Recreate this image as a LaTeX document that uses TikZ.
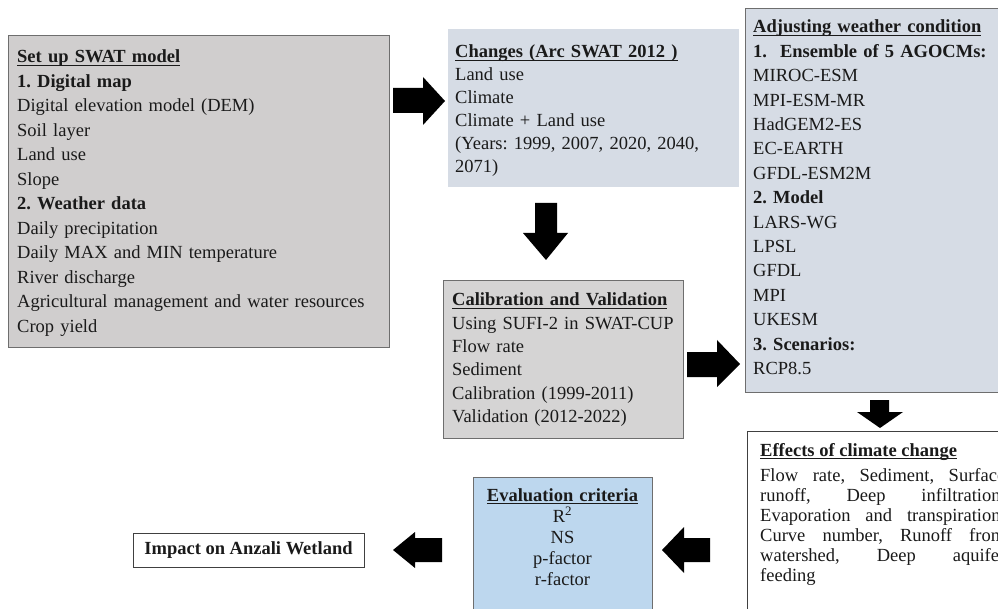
\documentclass[tikz,border=0pt]{standalone}
\usepackage{fontspec}
\setmainfont{Liberation Serif}
\definecolor{txt}{HTML}{1A1A1A}
\definecolor{grayA}{HTML}{D0CECE}
\definecolor{grayB}{HTML}{D5D4D4}
\definecolor{blueA}{HTML}{D6DCE5}
\definecolor{blueB}{HTML}{BDD7EE}
\definecolor{bord}{HTML}{6E6E6E}
\definecolor{bordD}{HTML}{404040}
\newsavebox\ulbox
\newcommand{\ulbar}[1]{\sbox\ulbox{#1}\rlap{\rule[-3.2pt]{\wd\ulbox}{0.9pt}}\usebox\ulbox}
\frenchspacing
\begin{document}
\frenchspacing
\begin{tikzpicture}[x=1pt,y=-1pt,
  panel/.style={anchor=north west, inner sep=0pt, line width=1pt},
  boxtext/.style={inner sep=0pt, anchor=base west, align=left, text=txt},
  blockarrow/.style={fill=black, draw=none},
]
\useasboundingbox (0,0) rectangle (998,609);
\clip (0,0) rectangle (998,609);

% ---- panels ----
\node[panel, draw=bord, fill=grayA, minimum width=381pt, minimum height=312pt] (setup) at (8,35) {};
\node[panel, fill=blueA, minimum width=291pt, minimum height=158pt] (changes) at (447,29) {};
\node[panel, draw=bord, fill=blueA, minimum width=290pt, minimum height=384pt] (weather) at (745,8) {};
\node[panel, draw=bord, fill=grayB, minimum width=240pt, minimum height=158pt] (calib) at (443,280) {};
\node[panel, draw=bordD, fill=white, minimum width=290pt, minimum height=200pt] (effects) at (747,431) {};
\node[panel, draw=bord, fill=blueB, minimum width=179pt, minimum height=150pt] (evalbox) at (473,477) {};
\node[draw=bordD, fill=white, line width=0.8pt, minimum width=231pt, minimum height=34pt, inner sep=0pt,
      text=txt, font=\fontsize{18.5}{22}\selectfont\bfseries] (impact) at (248.5,550) {Impact on Anzali Wetland};

% ---- texts ----
\node[boxtext, text width=370pt, font=\fontsize{18.5}{24.5}\selectfont] (setuptxt) at (17,63) {%
\ulbar{\textbf{Set up SWAT model}}\\
\textbf{1. Digital map}\\
Digital elevation model (DEM)\\
Soil layer\\
Land use\\
Slope\\
\textbf{2. Weather data}\\
Daily precipitation\\
Daily MAX and MIN temperature\\
River discharge\\
Agricultural management and water resources\\
Crop yield};

\node[boxtext, text width=280pt, font=\fontsize{18.5}{23}\selectfont] (changestxt) at (455,58) {%
\ulbar{\textbf{Changes (Arc SWAT 2012 )}}\\
Land use\\
Climate\\
Climate + Land use\\
(Years: 1999, 2007, 2020, 2040,\\
2071)};

\node[boxtext, text width=250pt, font=\fontsize{18.5}{24.4}\selectfont] (weathertxt) at (753,33) {%
\ulbar{\textbf{Adjusting weather condition}}\\
\textbf{1.\hspace{13pt}Ensemble of 5 AGOCMs:}\\
MIROC-ESM\\
MPI-ESM-MR\\
HadGEM2-ES\\
EC-EARTH\\
GFDL-ESM2M\\
\textbf{2. Model}\\
LARS-WG\\
LPSL\\
GFDL\\
MPI\\
UKESM\\
\textbf{3. Scenarios:}\\
RCP8.5};

\node[boxtext, text width=230pt, font=\fontsize{18.5}{23.3}\selectfont] (calibtxt) at (452,306) {%
\ulbar{\textbf{Calibration and Validation}}\\
Using SUFI-2 in SWAT-CUP\\
Flow rate\\
Sediment\\
Calibration (1999-2011)\\
Validation (2012-2022)};

\node[boxtext, text width=245pt, align=justify, font=\fontsize{18.5}{20}\selectfont] (effectstxt) at (760,456) {%
\ulbar{\textbf{Effects of climate change}}\par\vspace{5pt}
Flow rate, Sediment, Surface\linebreak
runoff, Deep infiltration,\linebreak
Evaporation and transpiration,\linebreak
Curve number, Runoff from\linebreak
watershed, Deep aquifer\linebreak
feeding};

\node[inner sep=0pt, anchor=base, text width=179pt, align=center, text=txt, font=\fontsize{18.5}{21}\selectfont] (evaltxt) at (562.5,501) {%
\ulbar{\textbf{Evaluation criteria}}\\
R\textsuperscript{2}\\
NS\\
p-factor\\
r-factor};

% ---- block arrows ----
\fill[blockarrow] (393,88) -- (423,88) -- (423,77) -- (445,101) -- (423,125) -- (423,113) -- (393,113) -- cycle;
\fill[blockarrow] (535,203) -- (557,203) -- (557,233) -- (568,233) -- (546,260) -- (523,233) -- (535,233) -- cycle;
\fill[blockarrow] (687,352) -- (717,352) -- (717,340) -- (740,364) -- (717,387) -- (717,377) -- (687,377) -- cycle;
\fill[blockarrow] (870,400) -- (889,400) -- (889,412) -- (903,412) -- (880,428) -- (857,412) -- (870,412) -- cycle;
\fill[blockarrow] (710,538) -- (684,538) -- (684,527) -- (662,550) -- (684,573) -- (684,562) -- (710,562) -- cycle;
\fill[blockarrow] (442,538) -- (415,538) -- (415,532) -- (393,550) -- (415,568) -- (415,562) -- (442,562) -- cycle;
\end{tikzpicture}
\end{document}
